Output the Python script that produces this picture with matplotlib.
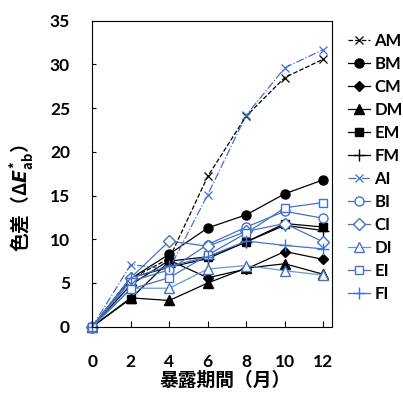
import matplotlib
matplotlib.use('Agg')
import matplotlib.pyplot as plt

plt.rcParams['font.family'] = ['Lato', 'Noto Sans CJK JP', 'DejaVu Sans']
plt.rcParams['font.weight'] = 'bold'
plt.rcParams['mathtext.fontset'] = 'custom'
plt.rcParams['mathtext.rm'] = 'Noto Sans CJK JP:bold'
plt.rcParams['mathtext.it'] = 'DejaVu Sans:italic:bold'

# data
months = [0, 2, 4, 6, 8, 10, 12]
AM = [0, 5.5, 7.8, 17.2, 24.1, 28.5, 30.6]
BM = [0, 5.5, 8.3, 11.3, 12.8, 15.2, 16.8]
CM = [0, 4.8, 7.6, 5.6, 6.6, 8.6, 7.7]
DM = [0, 3.3, 3.0, 5.0, 6.7, 7.2, 6.0]
EM = [0, 3.2, 7.5, 8.0, 9.7, 11.8, 11.4]
FM = [0, 5.6, 6.8, 7.8, 9.7, 11.6, 11.0]
AI = [0, 7.1, 6.6, 15.1, 24.2, 29.6, 31.7]
BI = [0, 5.2, 6.5, 9.4, 11.4, 13.2, 12.4]
CI = [0, 5.6, 9.8, 9.2, 10.9, 11.8, 9.7]
DI = [0, 4.4, 4.4, 6.6, 7.0, 6.4, 5.9]
EI = [0, 4.3, 5.6, 8.2, 10.7, 13.6, 14.2]
FI = [0, 5.6, 6.9, 8.0, 9.8, 9.3, 8.9]

blue = '#4472C4'
lblue = '#5B9BD5'

fig = plt.figure(figsize=(4.03, 3.96), dpi=100)
ax = fig.add_axes([0.229, 0.175, 0.5955, 0.7727])

# black series (M)
ax.plot(months, AM, color='k', ls='--', lw=0.9, marker='x', ms=6, mew=0.9, label='AM', clip_on=False)
ax.plot(months, BM, color='k', lw=0.9, marker='o', ms=6.5, label='BM', clip_on=False)
ax.plot(months, CM, color='k', lw=0.9, marker='D', ms=5.5, label='CM', clip_on=False)
ax.plot(months, DM, color='k', lw=0.9, marker='^', ms=6.5, label='DM', clip_on=False)
ax.plot(months, EM, color='k', lw=0.9, marker='s', ms=6, label='EM', clip_on=False)
ax.plot(months, FM, color='k', lw=0.9, marker='+', ms=8, mew=1.0, label='FM', clip_on=False)
# blue series (I)
ax.plot(months, AI, color=blue, ls='-.', lw=0.9, marker='x', ms=6, mew=0.9, label='AI', clip_on=False)
ax.plot(months, BI, color=blue, lw=0.9, marker='o', ms=6.5, mfc='white', label='BI', clip_on=False)
ax.plot(months, CI, color=blue, lw=0.9, marker='D', ms=6, mfc='white', label='CI', clip_on=False)
ax.plot(months, DI, color=lblue, lw=0.9, marker='^', ms=6.5, mfc='white', mec=blue, label='DI', clip_on=False)
ax.plot(months, EI, color=blue, lw=0.9, marker='s', ms=6, mfc='white', label='EI', clip_on=False)
ax.plot(months, FI, color=blue, lw=0.9, marker='+', ms=8, mew=1.0, label='FI', clip_on=False)

ax.set_xlim(0, 12.47)
ax.set_ylim(0, 35)
ax.set_xticks(months)
ax.set_yticks(range(0, 36, 5))
ax.tick_params(axis='x', direction='in', length=4.5, width=0.8, pad=20, labelsize=12.5)
ax.tick_params(axis='y', direction='in', length=3, width=0.8, pad=16, labelsize=12.5)
for s in ax.spines.values():
    s.set_linewidth(0.8)

ax.set_xlabel('暴露期間（月）', fontsize=13.5, fontweight='bold')
ax.xaxis.set_label_coords(0.555, -0.143)
ax.set_ylabel('色差（Δ$E^{*}_{\\mathrm{ab}}$）', fontsize=13.5, fontweight='bold',
              family='Noto Sans CJK JP')
ax.yaxis.set_label_coords(-0.235, 0.42)

ax.legend(loc='upper left', bbox_to_anchor=(1.065, 0.959), frameon=False,
          handlelength=1.35, handletextpad=0.25, labelspacing=0.42,
          borderpad=0, borderaxespad=0, prop={'weight': 'bold', 'size': 12})

fig.savefig('out.png', dpi=100)
